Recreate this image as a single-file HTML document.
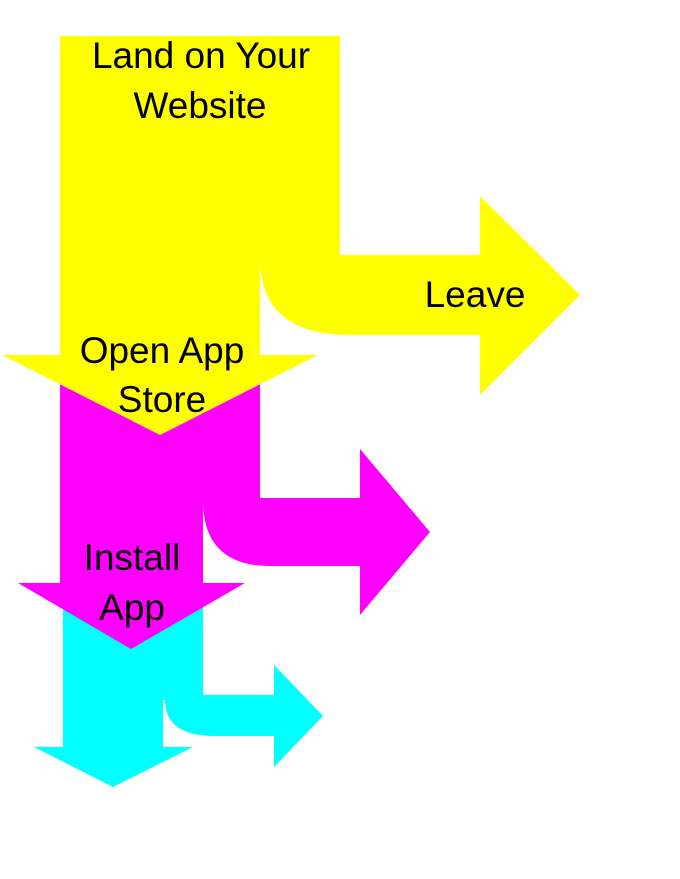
<!DOCTYPE html>
<html><head><meta charset="utf-8"><style>
html,body{margin:0;padding:0;background:#fff;}
svg{display:block;}
text{font-family:"Liberation Sans",sans-serif;font-size:37px;fill:#000;text-anchor:middle;}
</style></head><body>
<svg width="680" height="879" viewBox="0 0 680 879" xmlns="http://www.w3.org/2000/svg">
<path fill="#00ffff" d="M63,600 L203,600 L203,695 L274,695 L274,665 L323,716 L274,767 L274,736 L215,736 Q165,736 165,700 L163,700 L163,747 L193,747 L113,787 L34,747 L63,747 Z"/>
<path fill="#ff00ff" d="M60,380 L260,380 L260,498 L360,498 L360,449 L430,532 L360,615 L360,566 L270,566 Q203,566 203,500 L203,583 L245,583 L131,649 L18,583 L60,583 Z"/>
<path fill="#ffff00" d="M60,36 L340,36 L340,255 L480,255 L480,196 L580,295 L480,395 L480,335 L350,335 Q260,335 260,258 L260,355 L318,355 L160,435 L2,355 L60,355 Z"/>
<text x="201" y="68">Land on Your</text>
<text x="200" y="118">Website</text>
<text x="475" y="307">Leave</text>
<text x="162" y="363">Open App</text>
<text x="162" y="412">Store</text>
<text x="132" y="570">Install</text>
<text x="132" y="620">App</text>
</svg>
</body></html>
